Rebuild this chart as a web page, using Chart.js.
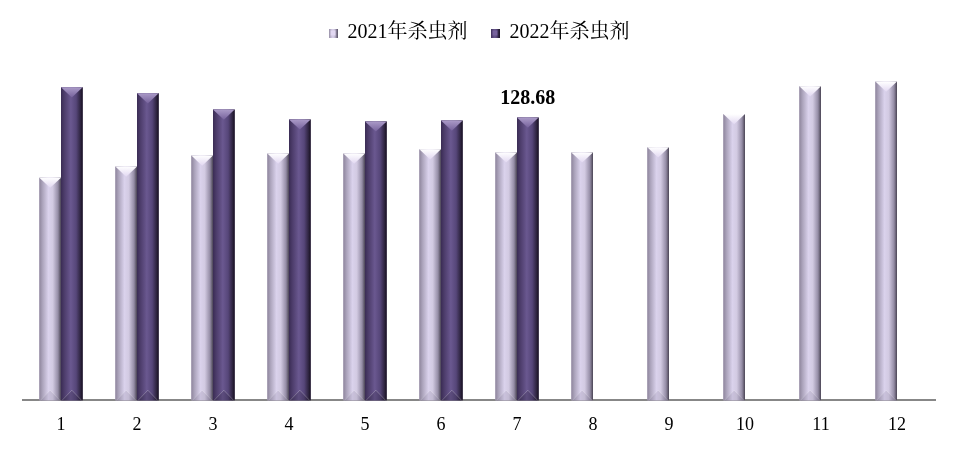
<!DOCTYPE html>
<html>
<head>
<meta charset="utf-8">
<script src="https://cdn.jsdelivr.net/npm/chart.js@4.4.1/dist/chart.umd.min.js"></script>
<style>
  html, body { margin: 0; padding: 0; background: #fff; }
  #wrap { width: 958px; height: 450px; position: relative; }
</style>
</head>
<body>
<div id="wrap"><canvas id="c"></canvas></div>
<script>
// ---- data ----
const months = ['1', '2', '3', '4', '5', '6', '7', '8', '9', '10', '11', '12'];
const seriesNames = ['2021年杀虫剂', '2022年杀虫剂'];
const values2021 = [101.3, 106.4, 111.4, 112.3, 112.3, 114.2, 112.8, 112.8, 115.1, 130.2, 142.9, 145.0];
const values2022 = [142.4, 139.7, 132.3, 127.8, 126.9, 127.3, 128.68, null, null, null, null, null];
const labelledPoint = { dataset: 1, index: 6 };

// ---- styles ----
const FONT = "'Liberation Serif', 'Noto Serif CJK SC', 'Noto Sans CJK SC', serif";
const palettes = [
  {
    base: '#c8c0d8',
    stops: [[0, '#8e859c'], [0.15, '#aca4bc'], [0.42, '#dad2ec'], [0.62, '#d2cae2'], [0.86, '#958da6'], [1, '#4a4454']],
    cap: ['#ffffff', '#e2d8f2'],
    bottom: 'rgba(60,50,80,0.10)'
  },
  {
    base: '#5a4878',
    stops: [[0, '#3a2c54'], [0.15, '#4c3c6a'], [0.45, '#6a5890'], [0.7, '#564679'], [0.9, '#2e2440'], [1, '#16101e']],
    cap: ['#ab9bc8', '#76629c'],
    bottom: 'rgba(0,0,0,0.12)'
  }
];

function drawBevel(ctx, x, top, base, w, pal) {
  const l = x - w / 2, r = x + w / 2;
  const g = ctx.createLinearGradient(l, 0, r, 0);
  pal.stops.forEach(s => g.addColorStop(s[0], s[1]));
  ctx.fillStyle = g;
  ctx.fillRect(l, top, w, base - top);
  const d = w * 0.47;
  // top cap
  const tg = ctx.createLinearGradient(0, top, 0, top + d);
  tg.addColorStop(0, pal.cap[0]);
  tg.addColorStop(1, pal.cap[1]);
  ctx.beginPath();
  ctx.moveTo(l, top); ctx.lineTo(r, top); ctx.lineTo(x, top + d); ctx.closePath();
  ctx.fillStyle = tg;
  ctx.fill();
  // bottom facet
  ctx.beginPath();
  ctx.moveTo(l, base); ctx.lineTo(r, base); ctx.lineTo(x, base - d); ctx.closePath();
  ctx.fillStyle = pal.bottom;
  ctx.fill();
  ctx.strokeStyle = 'rgba(255,255,255,0.25)';
  ctx.lineWidth = 1;
  ctx.beginPath();
  ctx.moveTo(l + 1, base); ctx.lineTo(x, base - d); ctx.lineTo(r - 1, base);
  ctx.stroke();
}

function makeIcon(pal) {
  const cv = document.createElement('canvas');
  cv.width = 9; cv.height = 9;
  const c = cv.getContext('2d');
  const g = c.createLinearGradient(0, 0, 9, 0);
  pal.stops.forEach(s => g.addColorStop(s[0], s[1]));
  c.fillStyle = g; c.fillRect(0, 0, 9, 9);
  c.fillStyle = pal.cap[1];
  c.fillRect(2, 2, 5, 5);
  return cv;
}
const legendIcons = palettes.map(makeIcon);

const bevelPlugin = {
  id: 'bevel',
  afterDatasetsDraw(chart) {
    const ctx = chart.ctx;
    ctx.save();
    chart.data.datasets.forEach((ds, di) => {
      const meta = chart.getDatasetMeta(di);
      if (meta.hidden) return;
      meta.data.forEach((el, i) => {
        if (ds.data[i] == null) return;
        const p = el.getProps(['x', 'y', 'base', 'width'], true);
        drawBevel(ctx, p.x, p.y, p.base, p.width, palettes[di]);
      });
    });
    // value label
    const el = chart.getDatasetMeta(labelledPoint.dataset).data[labelledPoint.index];
    const v = chart.data.datasets[labelledPoint.dataset].data[labelledPoint.index];
    ctx.font = "bold 20px " + FONT;
    ctx.fillStyle = '#000';
    ctx.textAlign = 'center';
    ctx.textBaseline = 'bottom';
    ctx.fillText(v.toFixed(2), el.x, el.y - 9);
    ctx.restore();
  }
};

new Chart(document.getElementById('c'), {
  type: 'bar',
  data: {
    labels: months,
    datasets: [
      { label: seriesNames[0], data: values2021, backgroundColor: palettes[0].base },
      { label: seriesNames[1], data: values2022, backgroundColor: palettes[1].base }
    ]
  },
  options: {
    responsive: true,
    maintainAspectRatio: false,
    animation: false,
    devicePixelRatio: 1,
    layout: { padding: { left: 23, right: 23, top: 0, bottom: 0 } },
    datasets: { bar: { categoryPercentage: 0.57, barPercentage: 1.0, skipNull: false } },
    scales: {
      x: {
        grid: { display: false, drawTicks: false },
        border: { display: true, color: '#878787', width: 2 },
        ticks: { color: '#000', font: { family: FONT, size: 18 }, padding: 14 }
      },
      y: {
        display: false,
        min: 0,
        max: 158
      }
    },
    plugins: {
      tooltip: { enabled: false },
      legend: {
        position: 'top',
        labels: {
          usePointStyle: true,
          boxWidth: 9,
          boxHeight: 9,
          padding: 23,
          color: '#000',
          font: { family: FONT, size: 20, lineHeight: 1.0 },
          generateLabels(chart) {
            return chart.data.datasets.map((ds, i) => ({
              text: ds.label,
              pointStyle: legendIcons[i],
              fillStyle: ds.backgroundColor,
              strokeStyle: 'transparent',
              lineWidth: 0,
              hidden: !chart.isDatasetVisible(i),
              datasetIndex: i,
              fontColor: '#000'
            }));
          }
        }
      }
    }
  },
  plugins: [bevelPlugin]
});
</script>
</body>
</html>
